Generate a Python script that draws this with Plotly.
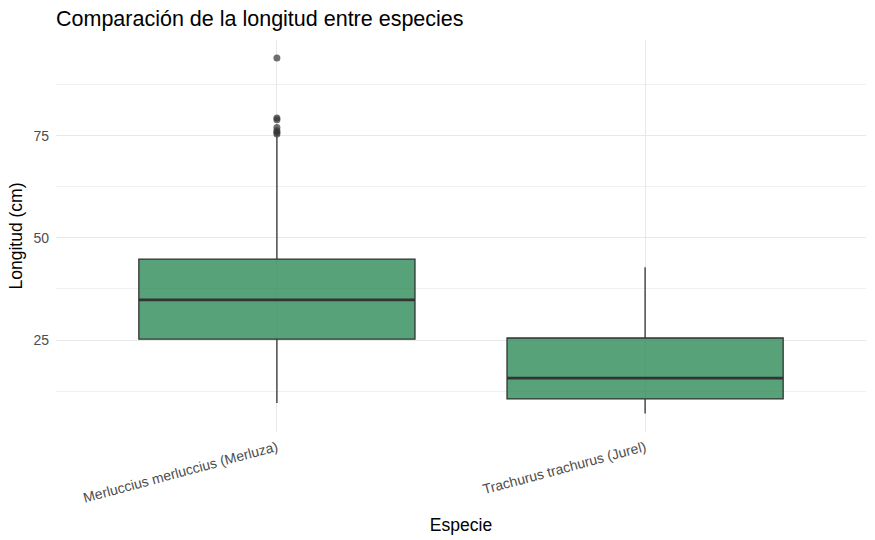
import plotly.graph_objects as go

especies = ["Merluccius merluccius (Merluza)", "Trachurus trachurus (Jurel)"]
bigote_inf = [9.6, 7.0]
q1 = [25.2, 10.6]
mediana = [34.8, 15.7]
q3 = [44.8, 25.5]
bigote_sup = [74.8, 42.8]
atipicos_merluza = [94.0, 79.3, 78.9, 77.0, 76.2, 75.8, 75.4]
atipicos_jurel = []
y_ticks = [25, 50, 75]

ancho = 0.75
pos = list(range(len(especies)))
fill = "rgba(46,139,87,0.8)"
linea = "#333333"

fig = go.Figure()
fig.add_trace(go.Box(
    x=pos, q1=q1, median=mediana, q3=q3,
    lowerfence=bigote_inf, upperfence=bigote_sup,
    width=ancho, whiskerwidth=0, fillcolor=fill,
    line=dict(color=linea, width=1.3), boxpoints=False,
    hoverinfo="skip", showlegend=False,
))
for i, m in zip(pos, mediana):
    fig.add_trace(go.Scatter(
        x=[i - ancho / 2, i + ancho / 2], y=[m, m], mode="lines",
        line=dict(color=linea, width=2.8), showlegend=False, hoverinfo="skip",
    ))
for i, ats in zip(pos, [atipicos_merluza, atipicos_jurel]):
    if ats:
        fig.add_trace(go.Scatter(
            x=[i] * len(ats), y=ats, mode="markers",
            marker=dict(color="rgba(51,51,51,0.7)", size=7, line=dict(width=0)),
            showlegend=False, hoverinfo="skip",
        ))

fig.update_layout(
    width=875, height=540,
    margin=dict(l=56, r=9, t=40, b=108),
    plot_bgcolor="white", paper_bgcolor="white",
    font=dict(family="Liberation Sans, Arial, sans-serif", color="black"),
    title=dict(text="Comparación de la longitud entre especies",
               x=56 / 875, xref="container", xanchor="left",
               y=1 - 18 / 540, yref="container", yanchor="middle",
               font=dict(size=21.5, color="black")),
)
fig.update_xaxes(
    range=[-0.6, 1.6], tickmode="array", tickvals=pos, ticktext=especies,
    tickangle=-15, tickfont=dict(size=14, color="#4D4D4D"),
    showgrid=True, gridcolor="#E8E8E8", gridwidth=1.2, zeroline=False,
    showline=False, ticks="", ticklabelstandoff=4, automargin=False,
    title=dict(text="Especie", font=dict(size=17.5, color="black"), standoff=14),
)
fig.update_yaxes(
    range=[2.5, 98.4], tickmode="array", tickvals=y_ticks,
    tickfont=dict(size=14, color="#4D4D4D"),
    showgrid=True, gridcolor="#E8E8E8", gridwidth=1.2, zeroline=False,
    minor=dict(showgrid=True, gridcolor="#F0F0F0", gridwidth=0.8, tickvals=[12.5, 37.5, 62.5, 87.5]),
    showline=False, ticks="", ticklabelstandoff=6, automargin=False,
    title=dict(text="Longitud (cm)", font=dict(size=17.5, color="black"), standoff=6),
)

fig.write_html("out.html", config={"displayModeBar": False},
               post_script="document.body.style.margin='0';document.body.style.padding='0';")
